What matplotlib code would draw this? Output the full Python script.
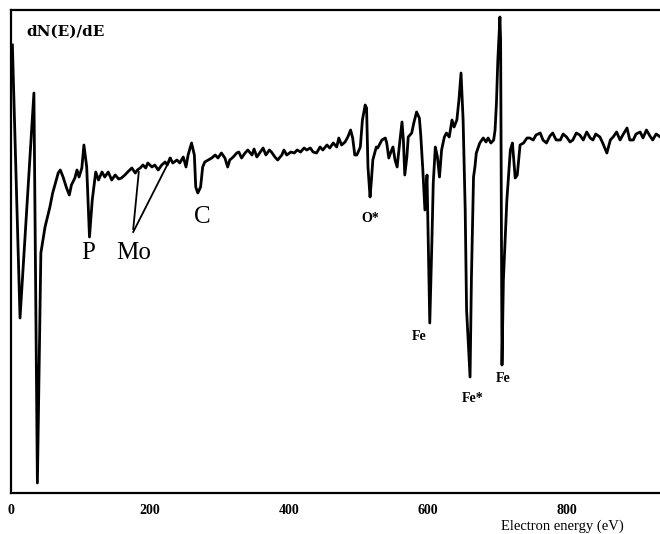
import matplotlib
matplotlib.use("Agg")
import matplotlib.pyplot as plt
import numpy as np

plt.rcParams['font.family'] = ['Liberation Serif', 'DejaVu Serif']

# Auger spectrum: energy (eV) and dN(E)/dE (arbitrary units)
energy = [2, 13, 33, 38, 43, 49, 56, 60, 68, 71, 75, 80, 84, 87, 92, 95, 98, 102, 105,
          109, 113, 117, 122, 126, 131, 135, 140, 145, 150, 155, 159, 164, 168, 174,
          179, 182, 186, 190, 194, 197, 203, 207, 212, 217, 222, 225, 229, 233, 239,
          243, 248, 252, 255, 260, 264, 266, 269, 273, 276, 279, 284, 289, 294, 298,
          303, 308, 312, 315, 320, 325, 328, 332, 337, 341, 347, 350, 354, 359, 363,
          367, 372, 375, 380, 384, 390, 393, 397, 403, 408, 412, 417, 422, 426, 431,
          435, 440, 445, 449, 455, 459, 464, 469, 472, 476, 481, 485, 489, 492, 495,
          498, 503, 506, 510, 512, 514, 517, 519, 521, 526, 528, 534, 539, 541, 544,
          547, 550, 553, 556, 559, 563, 565, 567, 570, 572, 577, 580, 584, 588, 590,
          593, 596, 599, 603, 606, 608, 611, 614, 617, 620, 624, 627, 631, 635, 638,
          642, 645, 648, 651, 654, 656, 661, 663, 666, 668, 670, 675, 680, 684, 687,
          691, 695, 697, 699, 701, 704, 705, 707, 709, 714, 719, 722, 726, 729, 733,
          738, 743, 747, 752, 756, 762, 766, 771, 776, 780, 785, 791, 795, 800, 805,
          809, 814, 819, 824, 829, 834, 838, 842, 848, 852, 858, 863, 867, 872, 877,
          881, 887, 891, 896, 900, 906, 910, 915, 920, 924, 929, 935]
signal = [448, 175, 400, 10, 240, 266, 286, 300, 320, 323, 316, 305, 298, 308, 315, 323,
          316, 325, 348, 326, 256, 293, 321, 313, 321, 316, 321, 313, 318, 314, 315,
          318, 321, 325, 320, 323, 325, 328, 325, 330, 326, 328, 323, 328, 331, 328,
          335, 330, 333, 330, 336, 326, 338, 350, 338, 306, 300, 306, 326, 331, 333,
          335, 338, 335, 340, 335, 326, 333, 336, 340, 341, 335, 340, 343, 338, 344,
          336, 341, 345, 338, 343, 341, 336, 333, 338, 343, 338, 341, 340, 343, 341,
          345, 343, 345, 341, 340, 346, 343, 348, 345, 350, 346, 355, 348, 351, 356,
          363, 355, 338, 338, 346, 373, 388, 385, 326, 296, 313, 333, 346, 345, 353,
          355, 350, 335, 341, 346, 333, 326, 346, 371, 353, 318, 336, 356, 360, 370,
          381, 375, 358, 323, 283, 318, 170, 250, 310, 346, 336, 316, 343, 356, 360,
          356, 373, 366, 373, 393, 420, 373, 283, 183, 116, 216, 316, 326, 340, 350,
          355, 351, 355, 350, 353, 363, 390, 433, 476, 453, 128, 213, 293, 343, 350,
          315, 318, 348, 350, 355, 355, 353, 358, 360, 353, 350, 357, 360, 353, 353,
          359, 356, 351, 353, 360, 358, 353, 361, 355, 353, 359, 356, 350, 340, 353,
          356, 361, 353, 358, 365, 353, 353, 359, 361, 355, 363, 357, 353, 359, 356]

peak_labels = ['P', 'Mo', 'C']
peak_label_pos = [(111, 240), (177, 240), (275, 276)]
fe_labels = ['O*', 'Fe', 'Fe*', 'Fe']
fe_label_pos = [(517, 275), (588, 156), (665, 95), (708, 114)]
mo_leaders = [((176, 264), (184, 321)), ((176, 261), (230, 335))]
xticks = [0, 200, 400, 600, 800]

fig = plt.figure(figsize=(6.6, 5.34), dpi=100)
ax = fig.add_axes([11 / 660, 41 / 534, 1 - 11 / 660, 483 / 534])

ax.plot(energy, signal, color='black', lw=2.0, solid_joinstyle='round')

for lab, (x, y) in zip(peak_labels, peak_label_pos):
    ax.text(x, y, lab, fontsize=18, ha='center', va='center')
for lab, (x, y) in zip(fe_labels, fe_label_pos):
    ax.text(x, y, lab, fontsize=10, fontweight='bold', ha='center', va='center')
for (x0, y0), (x1, y1) in mo_leaders:
    ax.plot([x0, x1], [y0, y1], color='black', lw=1.3)

ax.text(22, 461, 'dN(E)/dE', fontsize=11, fontweight='bold', ha='left', va='center',
        family='DejaVu Serif')

ax.set_xlim(0, 934.5)
ax.set_ylim(0, 483)
ax.set_xticks(xticks)
ax.set_xticklabels([str(t) for t in xticks], fontweight='bold', fontsize=10)
ax.tick_params(axis='x', length=0, pad=8)
ax.set_yticks([])
ax.spines['right'].set_visible(False)
for s in ['left', 'top', 'bottom']:
    ax.spines[s].set_linewidth(1.6)

fig.text(562 / 660, 1 - 526 / 534, 'Electron energy (eV)', fontsize=10.5,
         ha='center', va='center')

fig.savefig('out.png', dpi=100)
